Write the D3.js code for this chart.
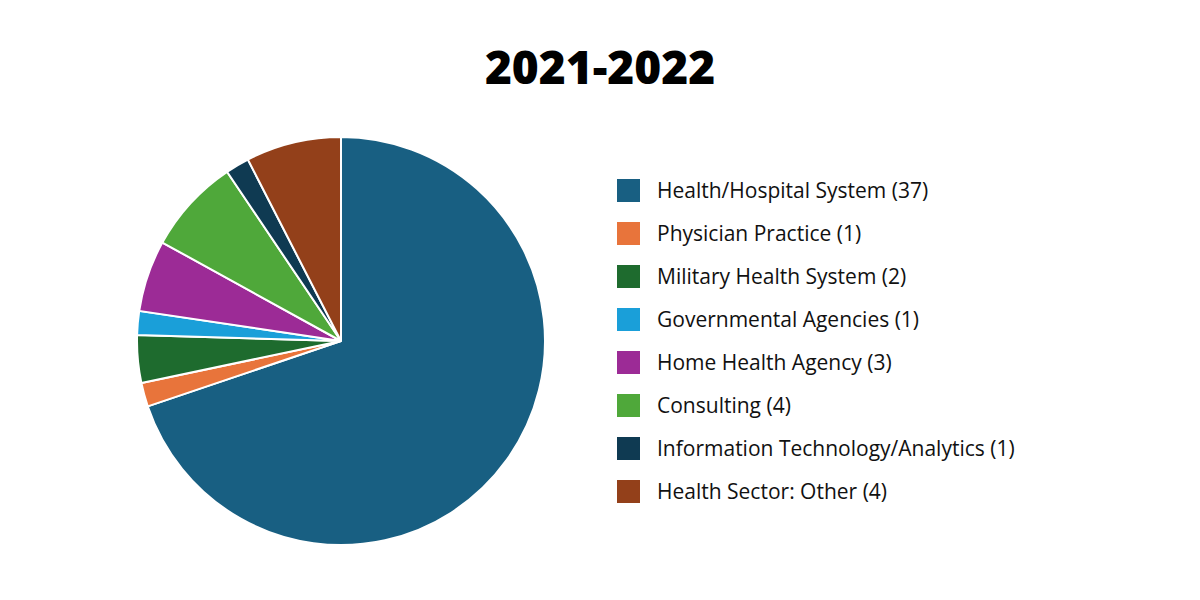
<!DOCTYPE html>
<html>
<head>
<meta charset="utf-8">
<script src="https://cdn.jsdelivr.net/npm/d3@7"></script>
<style>
  body { margin: 0; background: #fff; }
  text { font-family: "Open Sans", sans-serif; }
</style>
</head>
<body>
<svg id="chart" width="1200" height="600"></svg>
<script>
  var categories = [
    'Health/Hospital System', 'Physician Practice', 'Military Health System',
    'Governmental Agencies', 'Home Health Agency', 'Consulting',
    'Information Technology/Analytics', 'Health Sector: Other'
  ];
  var values = [37, 1, 2, 1, 3, 4, 1, 4];
  var colors = ['#185f82', '#e8743b', '#1e6b2e', '#1a9fd9', '#9c2b96', '#4fa83a', '#0f3a52', '#93401a'];

  var svg = d3.select('#chart');

  svg.append('text')
    .attr('x', 600)
    .attr('y', 84)
    .attr('text-anchor', 'middle')
    .style('font-size', '46px')
    .style('font-weight', 800)
    .text('2021-2022');

  var data = categories.map(function(c, i) { return { name: c, value: values[i], color: colors[i] }; });

  var pie = d3.pie().sort(null).value(function(d) { return d.value; });
  var arc = d3.arc().innerRadius(0).outerRadius(204);

  var g = svg.append('g').attr('transform', 'translate(341,341)');
  g.selectAll('path')
    .data(pie(data))
    .enter().append('path')
    .attr('d', arc)
    .attr('fill', function(d) { return d.data.color; })
    .attr('stroke', '#fff')
    .attr('stroke-width', 2);

  var legend = svg.append('g').attr('transform', 'translate(617,179)');
  var item = legend.selectAll('g')
    .data(data)
    .enter().append('g')
    .attr('transform', function(d, i) { return 'translate(0,' + (i * 43) + ')'; });

  item.append('rect')
    .attr('width', 23)
    .attr('height', 23)
    .attr('fill', function(d) { return d.color; });

  item.append('text')
    .attr('x', 40)
    .attr('y', 19)
    .style('font-size', '21px')
    .attr('fill', '#111')
    .text(function(d) { return d.name + ' (' + d.value + ')'; });
</script>
</body>
</html>
